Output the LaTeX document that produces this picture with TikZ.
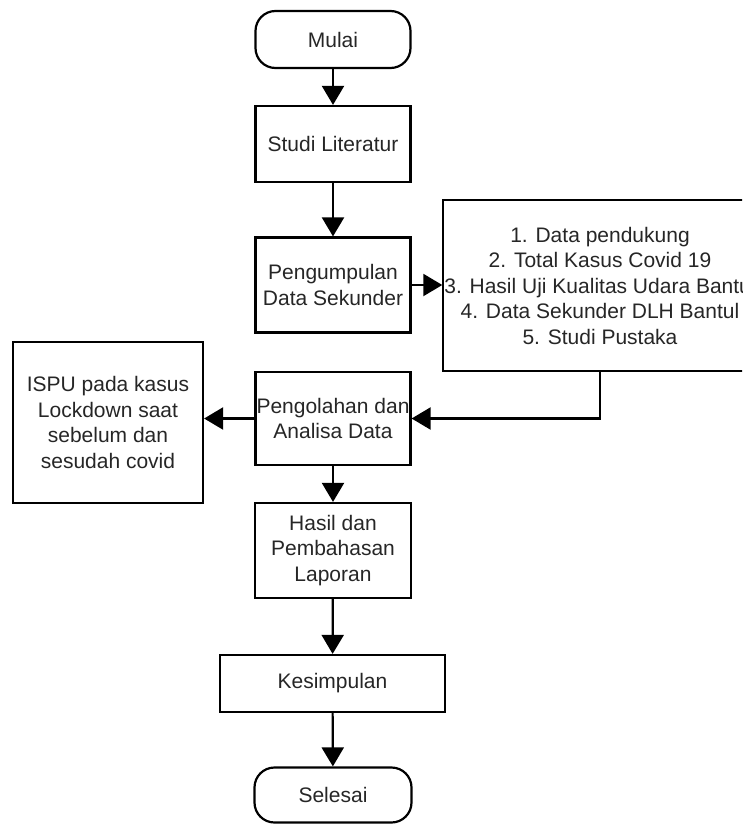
\documentclass[tikz,border=0pt]{standalone}
\usepackage{fontspec}
\setmainfont{Liberation Sans}
\usetikzlibrary{arrows.meta}
\tikzset{
	box/.style={draw, line width=2.2pt, align=center, inner sep=1pt, text=black!85, font=\fontsize{21}{25.5}\selectfont},
	term/.style={box, rounded corners=20pt},
	arr/.style={line width=2.2pt, -{Triangle[length=19pt,width=22pt]}}
}
\begin{document}
\begin{tikzpicture}[x=1pt,y=-1pt]
	\clip (0,0) rectangle (742,825);
	\node[term, minimum width=155pt, minimum height=57pt] (mulai) at (333,39.5) {Mulai};
	\node[box, minimum width=155pt, minimum height=76pt] (studi) at (333,144) {Studi Literatur};
	\node[box, minimum width=155pt, minimum height=95pt] (kumpul) at (333,285) {Pengumpulan\\Data Sekunder};
	\node[box, minimum width=312pt, minimum height=171pt] (data) at (600,285.5) {1. Data pendukung\\2. Total Kasus Covid 19\\3. Hasil Uji Kualitas Udara Bantul\\4. Data Sekunder DLH Bantul\\5. Studi Pustaka};
	\node[box, minimum width=155pt, minimum height=93pt] (olah) at (333,418.5) {Pengolahan dan\\Analisa Data};
	\node[box, minimum width=190pt, minimum height=161pt] (ispu) at (108,422.5) {ISPU pada kasus\\Lockdown saat\\sebelum dan\\sesudah covid};
	\node[box, minimum width=156pt, minimum height=95pt] (hasil) at (333,550.5) {Hasil dan\\Pembahasan\\Laporan};
	\node[box, minimum width=225pt, minimum height=57pt] (simpul) at (332.5,683.5) {Kesimpulan};
	\node[term, minimum width=157pt, minimum height=55pt] (selesai) at (333,795) {Selesai};

	\draw[arr] (mulai) -- (studi);
	\draw[arr] (studi) -- (kumpul);
	\draw[arr] (kumpul.east) -- (kumpul.east -| data.west);
	\draw[arr] (data.south) |- (olah.east);
	\draw[arr] (olah.west) -- (olah.west -| ispu.east);
	\draw[arr] (olah) -- (hasil);
	\draw[arr] (hasil) -- (simpul);
	\draw[arr] (simpul) -- (selesai);
\end{tikzpicture}
\end{document}
